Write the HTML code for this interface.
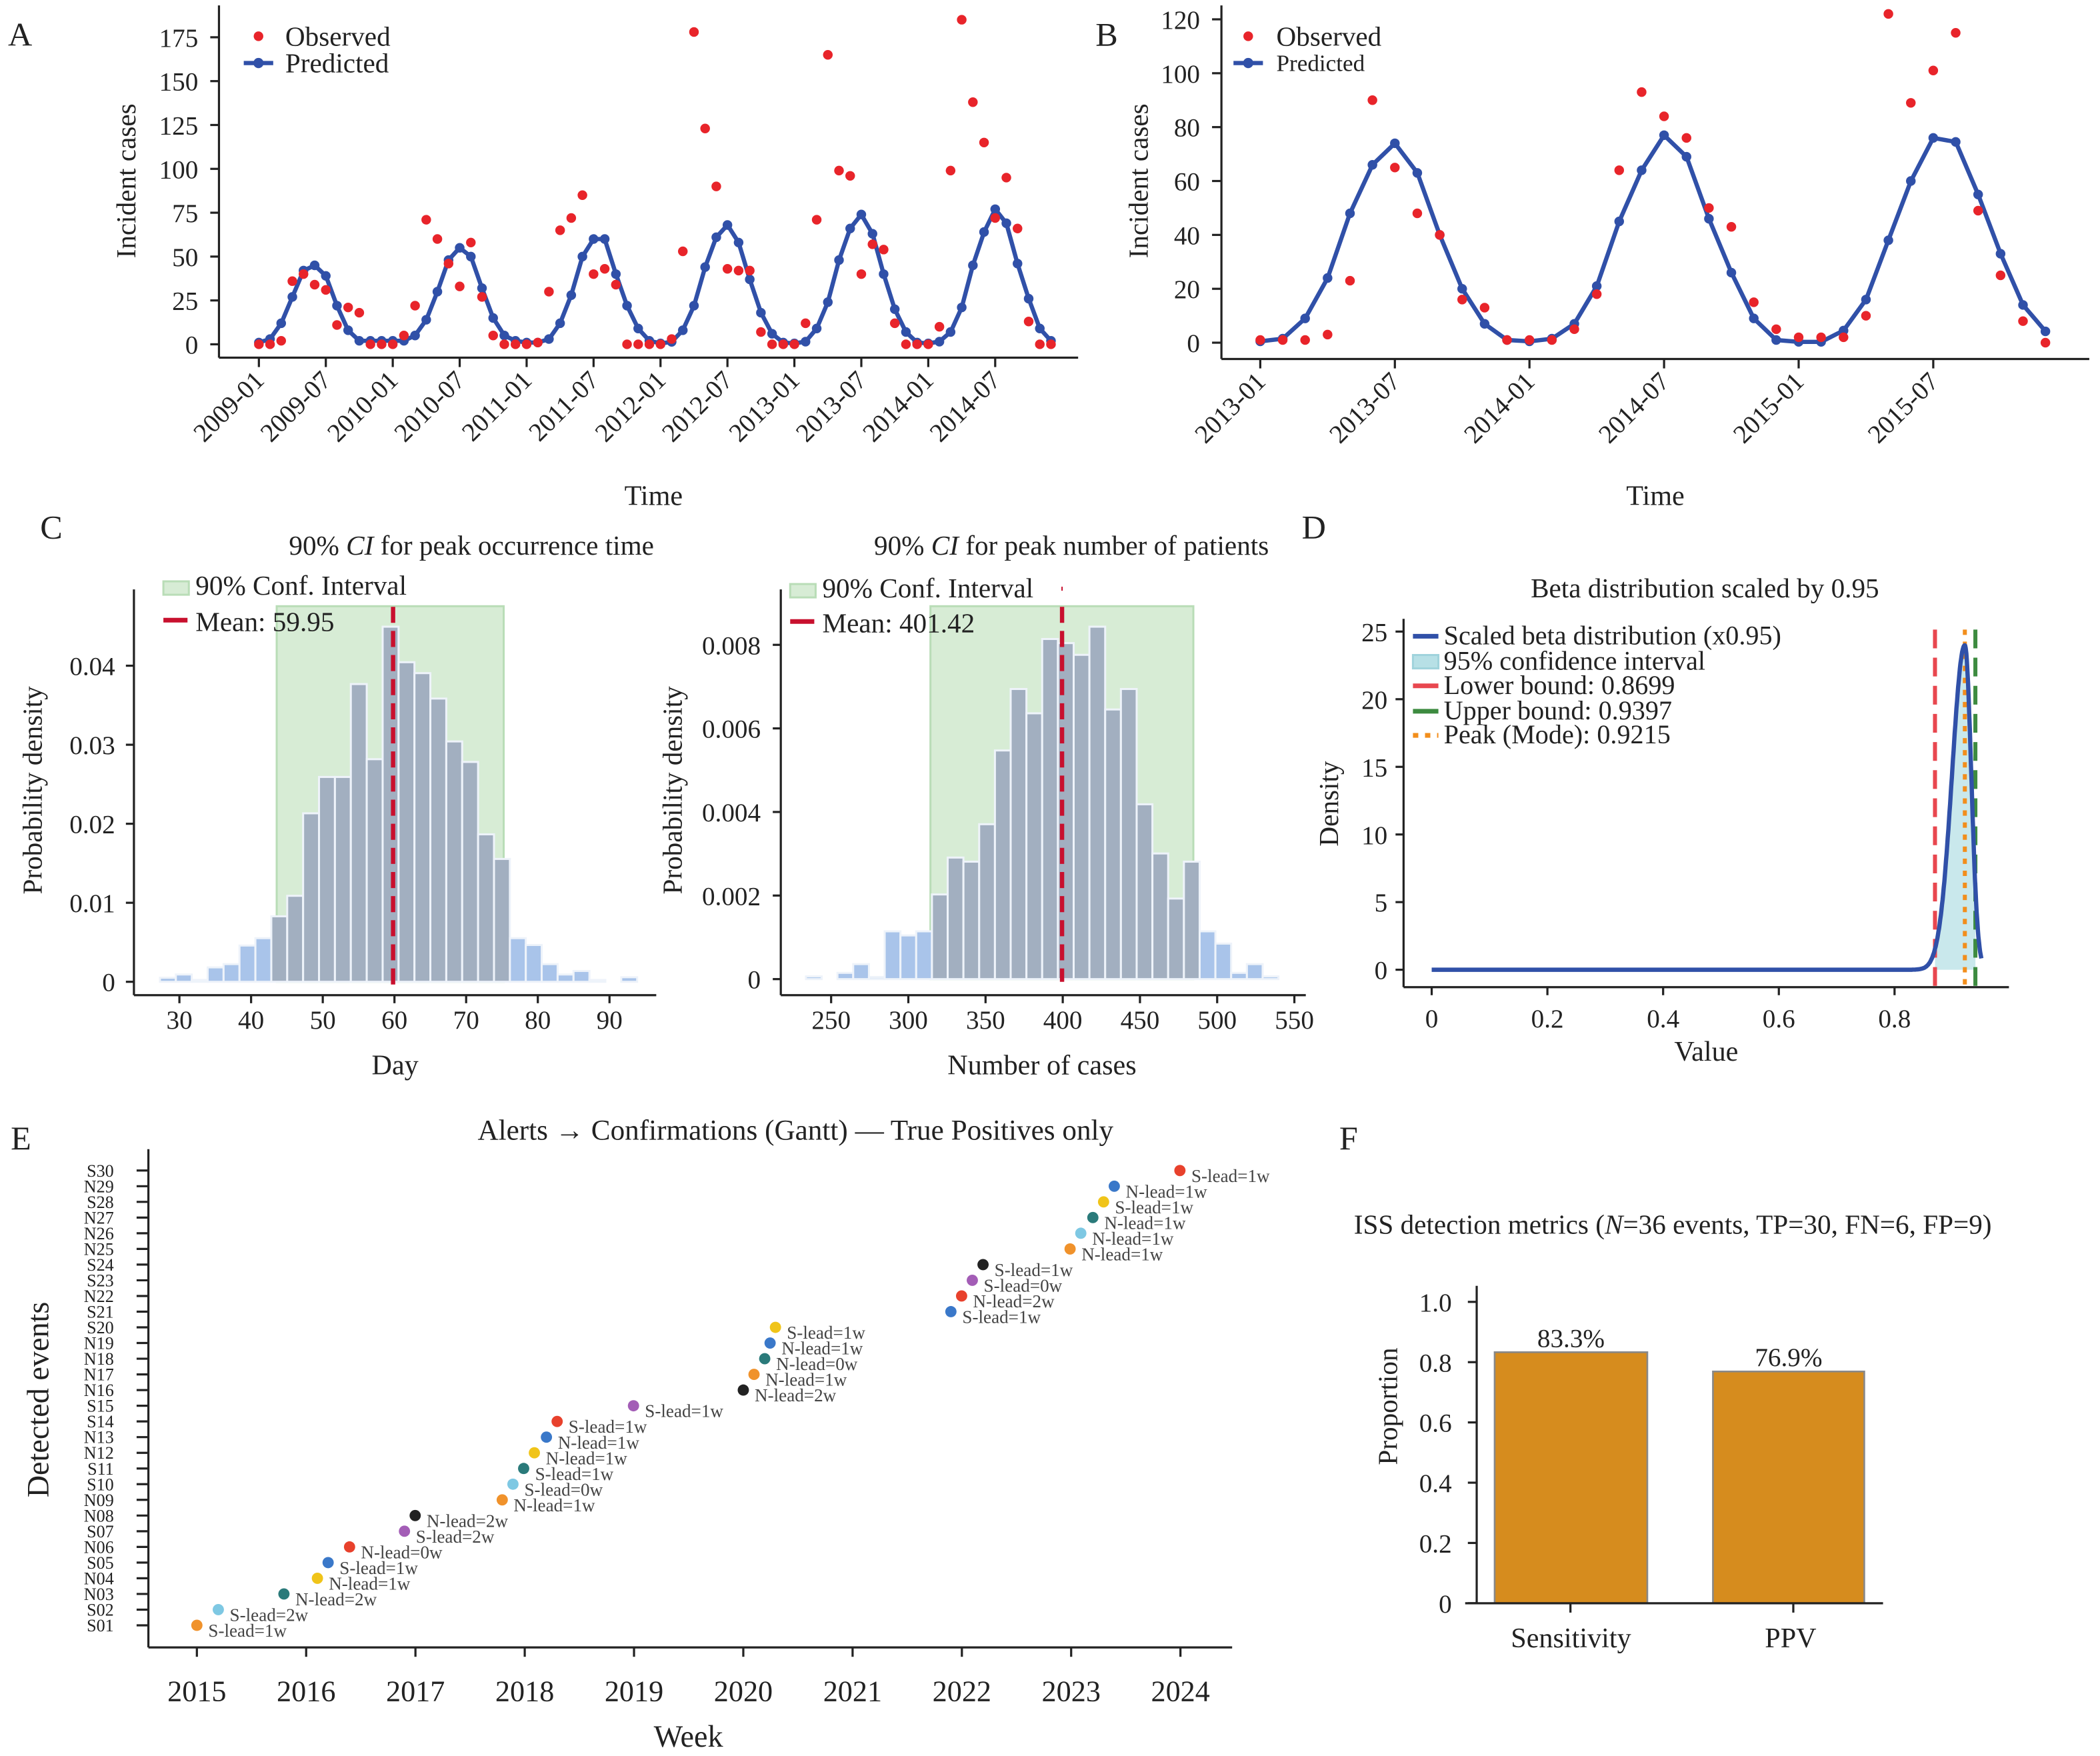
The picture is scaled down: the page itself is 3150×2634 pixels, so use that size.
<!DOCTYPE html>
<html><head><meta charset="utf-8"><style>
html,body{margin:0;padding:0;background:#fff;}
svg{display:block;font-family:"Liberation Serif",serif;}
</style></head><body>
<div id="c"></div>
<script>
const S=[];
function L(x1,y1,x2,y2,c,w,d){S.push(`<line x1="${x1}" y1="${y1}" x2="${x2}" y2="${y2}" stroke="${c||'#222'}" stroke-width="${w||1.6}"${d?` stroke-dasharray="${d}"`:''}/>`);}
function T(x,y,s,sz,a,ex){S.push(`<text x="${x}" y="${y}" font-size="${sz||19.5}" text-anchor="${a||'start'}" fill="#222" ${ex||''}>${s}</text>`);}
function C(x,y,r,c){S.push(`<circle cx="${x}" cy="${y}" r="${r}" fill="${c}"/>`);}
function R(x,y,w,h,f,st,sw){S.push(`<rect x="${x}" y="${y}" width="${w}" height="${h}" fill="${f}"${st?` stroke="${st}" stroke-width="${sw||1.5}"`:''}/>`);}
function P(pts,c,w,fill,d){S.push(`<polyline points="${pts.map(p=>p[0].toFixed(1)+','+p[1].toFixed(1)).join(' ')}" fill="${fill||'none'}" stroke="${c}" stroke-width="${w}" stroke-linejoin="round"${d?` stroke-dasharray="${d}"`:''}/>`);}
const BL='#3050a8',RD='#e8242a',TK=19.5;
// ---------- Panel A
{
const xm=m=>193.3+8.33*m, yv=v=>257-1.31*v;
L(163.5,4,163.5,267);L(163.5,267,805,267);
[0,25,50,75,100,125,150,175].forEach(v=>{L(157,yv(v),163.5,yv(v));T(148,yv(v)+7,v,TK,'end');});
const lab=['2009-01','2009-07','2010-01','2010-07','2011-01','2011-07','2012-01','2012-07','2013-01','2013-07','2014-01','2014-07'];
lab.forEach((s,k)=>{const x=xm(6*k);L(x,267,x,274);T(x+5,285,s,19.5,'end',`transform="rotate(-45 ${x+5} 285)"`);});
const pred=[1,3,12,27,42,45,39,22,8,2,2,2,
 2,2,5,14,30,48,55,50,32,15,5,2,
 1,1,3,12,28,50,60,60,40,22,9,2,
 0.5,1.4,8,22,44,61,68,58,37,18,6,1,
 0.5,1.5,9,24,48,66,74,63,40,20,7,1,
 0.5,1.5,7,21,45,64,77,69,46,26,9,2];
const obs=[0,0,2,36,40,34,31,11,21,18,0,0, 0,5,22,71,60,46,33,58,27,5,0,0, 0,1,30,65,72,85,40,43,34,0,0,0, 0,3,53,178,123,90,43,42,42,7,0,0, 0,12,71,165,99,96,40,57,54,12,0,0, 0,10,99,185,138,115,72,95,66,13,0,0];
P(pred.map((v,i)=>[xm(i),yv(v)]),BL,3.2);
pred.forEach((v,i)=>C(xm(i),yv(v),3.6,BL));
obs.forEach((v,i)=>C(xm(i),yv(v),3.6,RD));
T(101,135,'Incident cases',20.5,'middle','transform="rotate(-90 101 135)"');
T(488,377,'Time',21,'middle');
C(193,27,3.6,RD);T(213,34,'Observed',20.5);
L(182,47,204,47,BL,3.2);C(193,47,3.8,BL);T(213,54,'Predicted',20.5);
T(6,34,'A',25);
}
// ---------- Panel B
{
const xm=m=>941+16.75*m, yv=v=>255.8-2.012*v;
L(912,4,912,268);L(912,268,1560,268);
[0,20,40,60,80,100,120].forEach(v=>{L(905,yv(v),912,yv(v));T(896,yv(v)+7,v,TK,'end');});
['2013-01','2013-07','2014-01','2014-07','2015-01','2015-07'].forEach((s,k)=>{const x=xm(6*k);L(x,268,x,275);T(x+5,286,s,19.5,'end',`transform="rotate(-45 ${x+5} 286)"`);});
const pred=[0.5,1.5,9,24,48,66,74,63,40,20,7,1, 0.5,1.5,7,21,45,64,77,69,46,26,9,1, 0.3,0.3,4.5,16,38,60,76,74.5,55,33,14,4.2];
const obs=[1,1,1,3,23,90,65,48,40,16,13,1, 1,1,5,18,64,93,84,76,50,43,15,5, 2,2,2,10,122,89,101,115,49,25,8,0];
P(pred.map((v,i)=>[xm(i),yv(v)]),BL,3.2);
pred.forEach((v,i)=>C(xm(i),yv(v),3.6,BL));
obs.forEach((v,i)=>C(xm(i),yv(v),3.6,RD));
T(857,135,'Incident cases',20.5,'middle','transform="rotate(-90 857 135)"');
T(1236,377,'Time',21,'middle');
C(932,27,3.6,RD);T(953,34,'Observed',20.5);
L(921,47,943,47,BL,3.2);C(932,47,3.8,BL);T(953,53,'Predicted',17.5);
T(818,34,'B',25);
}
// ---------- Panel C left
{
const yv=v=>733-5900*v;
const zx=z=>(200+z/1.953)/2.009, zy=z=>(860+z/2.44)/2.009;
R(zx(420),zy(120),zx(1085)-zx(420),733-zy(120),'#d7ecd5','#b9ddb7',1.5);
const tops=[1480,1468,1488,1442,1430,1362,1335,1255,1180,878,745,745,405,680,195,325,365,458,615,690,955,1045,1335,1360,1430,1468,1455,1488,1495,1478];
tops.forEach((t,i)=>{if(t>=1494)return;const l=78+46.6*i,r=l+46.6;const cen=(l+r)/2;const inside=cen>420&&cen<1085;const x0=zx(l),x1=zx(r);const y0=zy(t);R(x0,y0,x1-x0,733-y0,inside?'#a2afc0':'#a9c4ea','#eef3fa',1.5);});
L(293.5,453,293.5,735,'#c8102e',3.2,'12,6');
L(100,440,100,743);L(100,743,490,743);
const xd=d=>zx(135)+(zx(345)-zx(135))*(d-30)/10;
[[0,'0'],[.01,'0.01'],[.02,'0.02'],[.03,'0.03'],[.04,'0.04']].forEach(([v,s])=>{L(94,yv(v),100,yv(v));T(86,yv(v)+7,s,TK,'end');});
[30,40,50,60,70,80,90].forEach(d=>{L(xd(d),743,xd(d),749);T(xd(d),768,d,TK,'middle');});
T(295,802,'Day',21,'middle');
T(31,590,'Probability density',20.5,'middle','transform="rotate(-90 31 590)"');
T(352,414,'90% <tspan font-style="italic">CI</tspan> for peak occurrence time',20.5,'middle');
R(122,434,19,10,'#d7ecd5','#b9ddb7',1.5);T(146,444,'90% Conf. Interval',20.5);
L(122,463,140,463,'#c8102e',3.5);T(146,471,'Mean: 59.95',20.5);
T(30,402,'C',25);
}
// ---------- Panel C right
{
const zx=z=>(1160+z/1.96)/2.009, zy=z=>(860+z/2.44)/2.009;
const yv=v=>731-31200*v;
R(zx(462),zy(120),zx(1235)-zx(462),731-zy(120),'#d7ecd5','#b9ddb7',1.5);
const tops=[1475,1495,1462,1430,1477,1310,1325,1310,1175,1040,1055,918,648,423,512,240,255,298,195,498,423,845,1025,1190,1055,1310,1355,1462,1430,1475];
tops.forEach((t,i)=>{if(t>=1494)return;const l=96+46.3*i,r=l+46.3;const cen=(l+r)/2;const inside=cen>462&&cen<1235;const x0=zx(l),x1=zx(r);const y0=zy(t);R(x0,y0,x1-x0,731-y0,inside?'#a2afc0':'#a9c4ea','#eef3fa',1.5);});
L(793,453,793,733,'#c8102e',3.2,'12,6');
L(793,438,793,441,'#c8102e',1);
L(583,440,583,743);L(583,743,975,743);
[[0,'0'],[.002,'0.002'],[.004,'0.004'],[.006,'0.006'],[.008,'0.008']].forEach(([v,s])=>{L(577,yv(v),583,yv(v));T(568,yv(v)+7,s,TK,'end');});
const xc=c=>zx(170)+(zx(397)-zx(170))*(c-250)/50;
[250,300,350,400,450,500,550].forEach(c=>{L(xc(c),743,xc(c),749);T(xc(c),768,c,TK,'middle');});
T(778,802,'Number of cases',21,'middle');
T(509,590,'Probability density',20.5,'middle','transform="rotate(-90 509 590)"');
T(800,414,'90% <tspan font-style="italic">CI</tspan> for peak number of patients',20.5,'middle');
R(590,436,19,10,'#d7ecd5','#b9ddb7',1.5);T(614,446,'90% Conf. Interval',20.5);
L(590,464,608,464,'#c8102e',3.5);T(614,472,'Mean: 401.42',20.5);
}
// ---------- Panel D
{
const xv=v=>1069+432*v, yv=v=>724-10.1*v;
const f=x=>{if(x>0.95)return 0;const m=0.9215;const s=x<m?0.022:0.011;return 24*Math.exp(-(x-m)*(x-m)/(2*s*s));};
const pts=[];for(let i=0;i<=950;i++){const x=i/1000;pts.push([xv(x),yv(f(x))]);}
const ci=[[xv(0.8699),yv(0)]];for(let x=0.8699;x<=0.9397;x+=0.001)ci.push([xv(x),yv(f(x))]);ci.push([xv(0.9397),yv(f(0.9397))],[xv(0.9397),yv(0)]);
S.push(`<polygon points="${ci.map(p=>p[0].toFixed(1)+','+p[1].toFixed(1)).join(' ')}" fill="#b7e0e6" fill-opacity="0.75"/>`);
L(xv(0.8699),470,xv(0.8699),737,'#e8474f',3,'14,7');
L(xv(0.9397),470,xv(0.9397),737,'#3d8b40',3,'14,7');
L(xv(0.9215),470,xv(0.9215),737,'#f28e1c',3,'4,5');
P(pts,BL,3.2);
L(1048,462,1048,737);L(1048,737,1500,737);
[0,5,10,15,20,25].forEach(v=>{L(1042,yv(v),1048,yv(v));T(1036,yv(v)+7,v,TK,'end');});
[[0,'0'],[.2,'0.2'],[.4,'0.4'],[.6,'0.6'],[.8,'0.8']].forEach(([v,s])=>{L(xv(v),737,xv(v),743);T(xv(v),767,s,TK,'middle');});
T(1274,792,'Value',21,'middle');
T(999,600,'Density',20.5,'middle','transform="rotate(-90 999 600)"');
T(1273,446,'Beta distribution scaled by 0.95',20.5,'middle');
L(1055,475,1074,475,BL,3.5);T(1078,481,'Scaled beta distribution (x0.95)',20);
R(1055,489,19,10,'#b7e0e6','#a0d3dc',1.5);T(1078,500,'95% confidence interval',20);
L(1055,512,1074,512,'#e8474f',3.5);T(1078,518,'Lower bound: 0.8699',20);
L(1055,531,1074,531,'#3d8b40',3.5);T(1078,537,'Upper bound: 0.9397',20);
L(1055,549,1074,549,'#f28e1c',3.5,'4,5');T(1078,555,'Peak (Mode): 0.9215',20);
T(972,402,'D',25);
}
// ---------- Panel E
{
const xy=y=>147+81.6*(y-2015), Y=i=>1213.5-i*11.71;
L(110.8,858,110.8,1230);L(110.8,1230,920,1230);
const names=['S01','S02','N03','N04','S05','N06','S07','N08','N09','S10','S11','N12','N13','S14','S15','N16','N17','N18','N19','S20','S21','N22','S23','S24','N25','N26','N27','S28','N29','S30'];
names.forEach((n,i)=>{L(102,Y(i),110.8,Y(i));T(85,Y(i)+4.5,n,13,'end');});
for(let y=2015;y<=2024;y++){L(xy(y),1230,xy(y),1237);T(xy(y),1270,y,22,'middle');}
const O='#f0922b',LB='#7ec8e3',TE='#2a7a7a',YE='#f0c419',BU='#3a78c9',RE='#e8412c',PU='#a35db6',BK='#222';
const ev=[[147,O,'S-lead=1w'],[163,LB,'S-lead=2w'],[212,TE,'N-lead=2w'],[237,YE,'N-lead=1w'],[245,BU,'S-lead=1w'],[261,RE,'N-lead=0w'],[302,PU,'S-lead=2w'],[310,BK,'N-lead=2w'],[375,O,'N-lead=1w'],[383,LB,'S-lead=0w'],[391,TE,'S-lead=1w'],[399,YE,'N-lead=1w'],[408,BU,'N-lead=1w'],[416,RE,'S-lead=1w'],[473,PU,'S-lead=1w'],[555,BK,'N-lead=2w'],[563,O,'N-lead=1w'],[571,TE,'N-lead=0w'],[575,BU,'N-lead=1w'],[579,YE,'S-lead=1w'],[710,BU,'S-lead=1w'],[718,RE,'N-lead=2w'],[726,PU,'S-lead=0w'],[734,BK,'S-lead=1w'],[799,O,'N-lead=1w'],[807,LB,'N-lead=1w'],[816,TE,'N-lead=1w'],[824,YE,'S-lead=1w'],[832,BU,'N-lead=1w'],[881,RE,'S-lead=1w']];
ev.forEach(([x,c,s],i)=>{const y=Y(i);C(x,y,4.2,c);S.push(`<text x="${x+8.5}" y="${y+8.5}" font-size="13.5" fill="#444">${s}</text>`);});
T(514,1304,'Week',23,'middle');
T(36,1045,'Detected events',23,'middle','transform="rotate(-90 36 1045)"');
T(594,851,'Alerts → Confirmations (Gantt) — True Positives only',21.5,'middle');
T(8,858,'E',25);
}
// ---------- Panel F
{
const yv=v=>1197-225*v;
R(1116,yv(0.833),114,yv(0)-yv(0.833),'#d68c1e','#888',1.3);
R(1279,yv(0.769),113,yv(0)-yv(0.769),'#d68c1e','#888',1.3);
T(1173,yv(0.833)-4,'83.3%',19.5,'middle');T(1335.5,yv(0.769)-4,'76.9%',19.5,'middle');
L(1102.6,960,1102.6,1197);L(1094,1197,1406,1197);
[[0,'0'],[.2,'0.2'],[.4,'0.4'],[.6,'0.6'],[.8,'0.8'],[1,'1.0']].forEach(([v,s])=>{L(1096,yv(v),1102.6,yv(v));T(1084,yv(v)+7,s,TK,'end');});
L(1172.6,1197,1172.6,1204);L(1339,1197,1339,1204);
T(1173,1230,'Sensitivity',21,'middle');T(1337,1230,'PPV',21,'middle');
T(1043,1050,'Proportion',20.5,'middle','transform="rotate(-90 1043 1050)"');
T(1249,921,'ISS detection metrics (<tspan font-style="italic">N</tspan>=36 events, TP=30, FN=6, FP=9)',20.5,'middle');
T(1000,858,'F',25);
}
document.getElementById('c').innerHTML=`<svg xmlns="http://www.w3.org/2000/svg" width="3150" height="2634" viewBox="0 0 1568 1311">${S.join('')}</svg>`;
</script>
</body></html>
